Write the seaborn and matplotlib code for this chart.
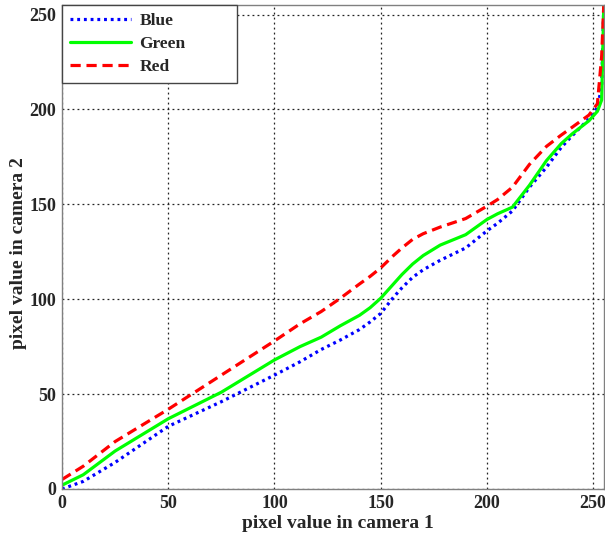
import matplotlib
matplotlib.use("Agg")
import matplotlib.pyplot as plt
import seaborn as sns
import pandas as pd

x_vals = [0, 10, 25, 50, 75, 100, 112, 122, 131, 140, 145, 150, 156, 160, 165, 170, 178, 190, 200, 205, 212, 220, 228, 235, 240, 248, 252, 254, 255]
blue = [0, 4, 14, 33, 46, 60, 67, 73.5, 78.5, 84, 88, 92.5, 101, 106, 111.5, 115.5, 120.5, 127, 136, 140, 146.5, 159, 169.5, 180, 186, 195, 201, 212, 255]
green = [2, 7.5, 20, 37, 51, 68, 75, 80, 86, 91.5, 95.5, 100.5, 108, 113, 118.5, 123, 128.5, 134, 142, 145, 148.5, 160, 173, 182, 187, 194, 199, 205, 255]
red = [5, 12, 25, 42, 60, 78, 87, 93.5, 100.5, 108, 112, 116.5, 123, 127, 131.5, 134.5, 138, 142.5, 149, 152.5, 159, 171, 180.5, 186.5, 190.5, 197, 203, 228, 255]
ticks = [0, 50, 100, 150, 200, 250]

sns.set_style("white")
plt.rcParams['font.family'] = ['Liberation Serif', 'DejaVu Serif']
plt.rcParams['font.weight'] = 'bold'

fig = plt.figure(figsize=(6.05, 5.34), dpi=100)
ax = fig.add_axes([0.1025, 0.0843, 0.8955, 0.9063])

df = pd.DataFrame({"x": x_vals, "Blue": blue, "Green": green, "Red": red})
lw = 2.3
sns.lineplot(data=df, x="x", y="Blue", ax=ax, color="#0000ff", linestyle=(0, (0.9, 1.2)), linewidth=lw, label="Blue")
sns.lineplot(data=df, x="x", y="Green", ax=ax, color="#00ff00", linestyle="-", linewidth=lw, label="Green")
sns.lineplot(data=df, x="x", y="Red", ax=ax, color="#ff0000", linestyle=(0, (3.2, 1.8)), linewidth=lw, label="Red")

ax.set_xlim(0, 255)
ax.set_ylim(0, 255)
ax.set_xticks(ticks)
ax.set_yticks(ticks)
ax.set_xticklabels([str(t) for t in ticks], fontsize=13, fontweight='bold')
ax.set_yticklabels([str(t) for t in ticks], fontsize=13, fontweight='bold')
ax.grid(True, color="#222222", linestyle=(0, (1.5, 2.5)), linewidth=0.9)
ax.tick_params(direction='in', length=4, color="#808080", pad=4)
for s in ax.spines.values():
    s.set_color("#808080")
    s.set_linewidth(1.0)
ax.set_xlabel("pixel value in camera 1", fontsize=14, fontweight='bold')
ax.set_ylabel("pixel value in camera 2", fontsize=14, fontweight='bold')
ax.xaxis.set_label_coords(0.51, -0.054)
ax.yaxis.set_label_coords(-0.0646, 0.4866)

leg = ax.legend(loc="upper left", bbox_to_anchor=(0, 1, 0.323, 0), mode="expand",
                borderaxespad=0, fancybox=False, framealpha=1,
                edgecolor="#444444", fontsize=12.5, handlelength=3.5, labelspacing=0.4,
                borderpad=0.45, handletextpad=0.5)
leg.get_frame().set_linewidth(1.0)
for t in leg.get_texts():
    t.set_fontweight('bold')

fig.savefig("out.png", dpi=100)
